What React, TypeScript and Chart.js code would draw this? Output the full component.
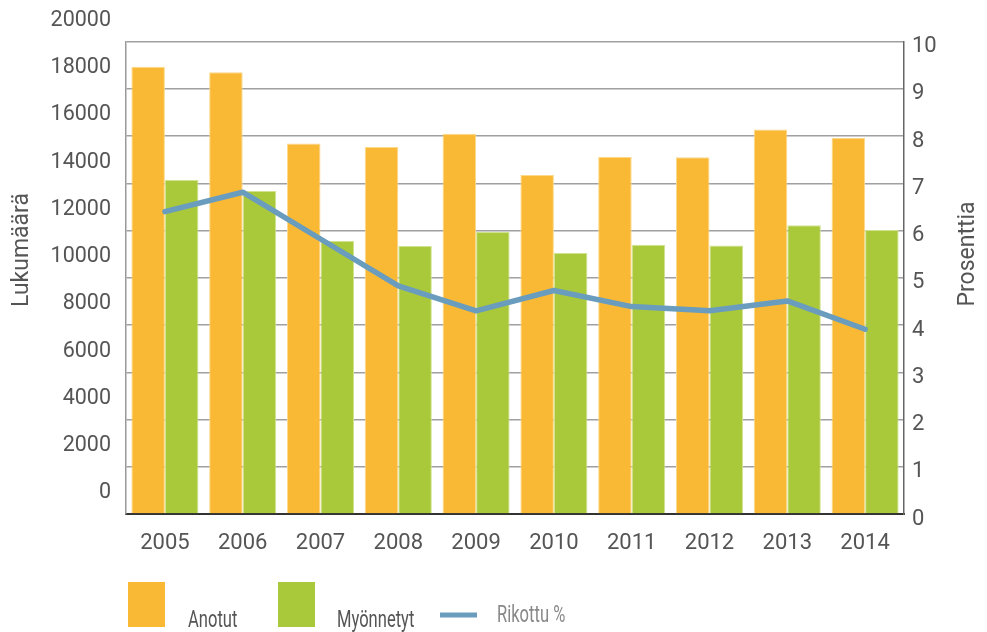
import React, { useEffect, useRef } from "react";
import { Chart, registerables } from "chart.js";

Chart.register(...registerables);

const YEARS = ["2005", "2006", "2007", "2008", "2009", "2010", "2011", "2012", "2013", "2014"];
const ANOTUT = [18930, 18700, 15680, 15530, 16090, 14350, 15110, 15100, 16270, 15920];
const MYONNETYT = [14140, 13670, 11560, 11340, 11940, 11050, 11400, 11360, 12220, 12020];
const RIKOTTU = [6.4, 6.81, 5.82, 4.83, 4.3, 4.73, 4.39, 4.3, 4.51, 3.91];

const LEFT_TITLE = "Lukumäärä";
const RIGHT_TITLE = "Prosenttia";
const LEGEND_LABELS = ["Anotut", "Myönnetyt", "Rikottu %"];

const ORANGE = "#F9B934";
const GREEN = "#A9C93A";
const BLUE = "#6A9DBD";
const FONT = "Roboto, 'DejaVu Sans', sans-serif";

const overlayPlugin = {
  id: "overlay",
  afterDraw(chart: any) {
    const ctx = chart.ctx;
    const area = chart.chartArea;
    ctx.save();
    ctx.font = `23px ${FONT}`;
    ctx.fillStyle = "#555";
    ctx.textAlign = "center";
    ctx.textBaseline = "middle";
    // axis titles
    ctx.save();
    ctx.translate(22, 250);
    ctx.rotate(-Math.PI / 2);
    ctx.fillText(LEFT_TITLE, 0, 0);
    ctx.restore();
    ctx.save();
    ctx.translate(area.right + 64, 254);
    ctx.rotate(-Math.PI / 2);
    ctx.fillText(RIGHT_TITLE, 0, 0);
    ctx.restore();

    // legend
    ctx.fillStyle = ORANGE;
    ctx.fillRect(128, 582, 37, 45);
    ctx.fillStyle = GREEN;
    ctx.fillRect(278, 582, 37, 45);
    ctx.strokeStyle = BLUE;
    ctx.lineWidth = 5;
    ctx.beginPath();
    ctx.moveTo(440, 615);
    ctx.lineTo(477, 615);
    ctx.stroke();

    const drawNarrow = (text: string, x: number, y: number, color: string, baseline: string) => {
      ctx.save();
      ctx.translate(x, y);
      ctx.scale(0.72, 1);
      ctx.font = `23px ${FONT}`;
      ctx.textAlign = "left";
      ctx.textBaseline = baseline;
      ctx.fillStyle = color;
      ctx.fillText(text, 0, 0);
      ctx.restore();
    };
    drawNarrow(LEGEND_LABELS[0], 188, 627, "#555", "alphabetic");
    drawNarrow(LEGEND_LABELS[1], 337, 627, "#555", "alphabetic");
    drawNarrow(LEGEND_LABELS[2], 497, 616, "#888", "middle");
    ctx.restore();
  },
};

export default function App() {
  const ref = useRef<HTMLCanvasElement | null>(null);

  useEffect(() => {
    if (!ref.current) return;
    const chart = new Chart(ref.current, {
      type: "bar",
      data: {
        labels: YEARS,
        datasets: [
          {
            type: "bar",
            label: LEGEND_LABELS[0],
            data: ANOTUT,
            backgroundColor: ORANGE,
            borderColor: "#FCD98A",
            borderWidth: 1,
            yAxisID: "y",
            categoryPercentage: 0.862,
            barPercentage: 1.0,
          },
          {
            type: "bar",
            label: LEGEND_LABELS[1],
            data: MYONNETYT,
            backgroundColor: GREEN,
            borderColor: "#D2E38F",
            borderWidth: 1,
            yAxisID: "y",
            categoryPercentage: 0.862,
            barPercentage: 1.0,
          },
          {
            type: "line",
            label: LEGEND_LABELS[2],
            data: RIKOTTU,
            borderColor: BLUE,
            borderWidth: 5.5,
            borderCapStyle: "round",
            borderJoinStyle: "round",
            pointRadius: 0,
            tension: 0,
            fill: false,
            yAxisID: "y1",
            order: -1,
          },
        ],
      } as any,
      options: {
        animation: false,
        responsive: true,
        maintainAspectRatio: false,
        layout: { padding: { left: 8, right: 0, top: 41.5, bottom: 78 } },
        plugins: {
          legend: { display: false },
          tooltip: { enabled: false },
        },
        scales: {
          x: {
            grid: { display: false, drawTicks: false },
            border: { color: "#333", width: 2 },
            ticks: { color: "#555", font: { family: FONT, size: 22 }, padding: 16 },
            afterFit(scale: any) {
              scale.height = 40;
            },
          },
          y: {
            position: "left",
            min: 0,
            max: 20000,
            grid: { color: "#A0A0A0", lineWidth: 1.5, drawTicks: false },
            border: { color: "#999", width: 1.5 },
            ticks: {
              stepSize: 2000,
              color: "#555",
              font: { family: FONT, size: 21.5 },
              padding: 15,
              labelOffset: -21,
              callback: (v: any) => String(v),
            },
            afterFit(scale: any) {
              scale.width = 118;
            },
          },
          y1: {
            position: "right",
            min: 0,
            max: 10,
            grid: { drawOnChartArea: false, drawTicks: false },
            border: { color: "#666", width: 1.5 },
            ticks: {
              stepSize: 1,
              color: "#555",
              font: { family: FONT, size: 22 },
              padding: 8,
              labelOffset: 5,
              callback: (v: any) => String(v),
            },
            afterFit(scale: any) {
              scale.width = 83;
            },
          },
        },
      } as any,
      plugins: [overlayPlugin],
    });
    return () => chart.destroy();
  }, []);

  return (
    <div style={{ position: "fixed", left: 0, top: 0, width: 987, height: 632, background: "#fff" }}>
      <canvas ref={ref} />
    </div>
  );
}
